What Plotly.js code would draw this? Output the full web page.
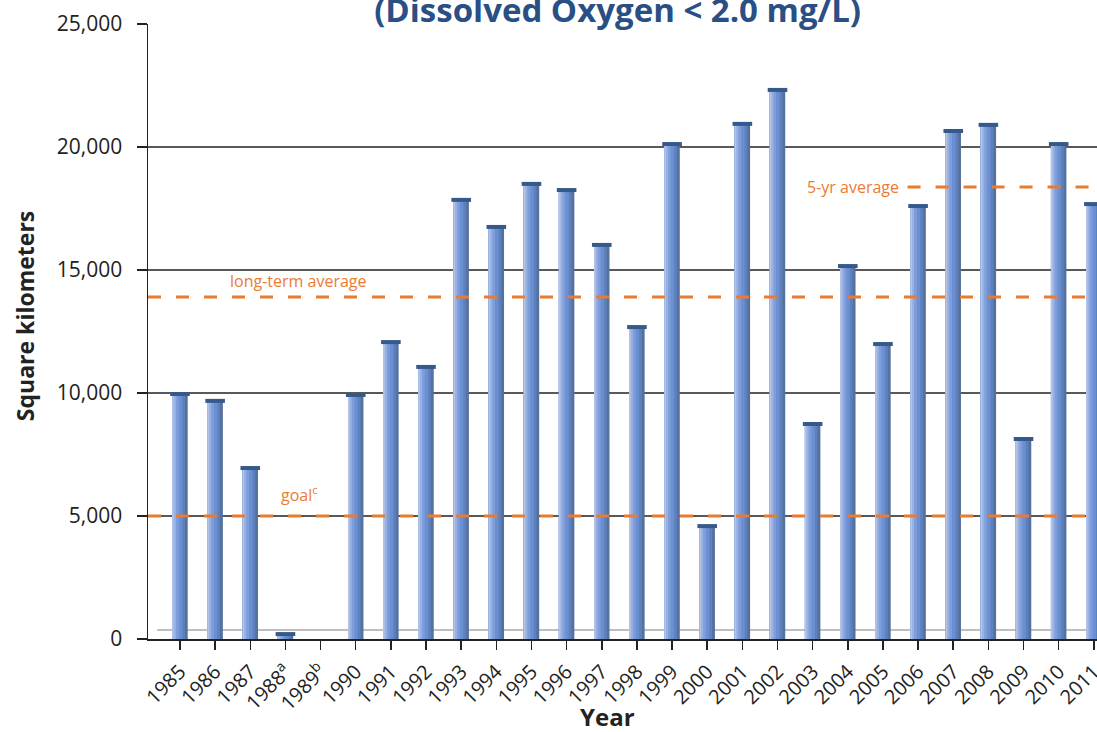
<!DOCTYPE html>
<html>
<head>
<meta charset="utf-8">
<script src="https://cdn.plot.ly/plotly-3.0.1.min.js"></script>
<style>html,body{margin:0;padding:0;background:#fff;}#chart{width:1097px;height:732px;}</style>
</head>
<body>
<div id="chart"></div>
<script>
const years = ["1985","1986","1987","1988<sup>a</sup>","1989<sup>b</sup>","1990","1991","1992","1993","1994","1995","1996","1997","1998","1999","2000","2001","2002","2003","2004","2005","2006","2007","2008","2009","2010","2011"];
const areaKm2 = [9960,9680,6950,200,null,9920,12070,11060,17850,16750,18500,18250,16020,12680,20120,4590,20940,22320,8740,15160,11990,17600,20650,20900,8130,20120,17680];
const longTermAverage = 13900;
const goal = 5000;
const fiveYearAverage = 18370;
const fiveYearStart = "2007";
const yTicks = [0,5000,10000,15000,20000,25000];
const gridValues = [5000,10000,15000,20000];

const idx = years.map((_, i) => i);
const W = 0.44;
// cylinder shading stripes: [widthFrac, color]
const stripes = [
  [1.00, "#55719f"],
  [0.82, "#5f81bb"],
  [0.64, "#6a8fd2"],
  [0.42, "#7d9ddb"],
  [0.24, "#98b1e2"],
  [0.10, "#b4c5e8"]
];
const traces = stripes.map(s => ({
  type: "bar", x: idx, y: areaKm2,
  width: W * s[0], offset: -W / 2,
  marker: {color: s[1], line: {width: 0}},
  hoverinfo: "skip", showlegend: false
}));
traces.push({
  type: "scatter", mode: "markers", x: idx, y: areaKm2,
  marker: {symbol: "line-ew", size: 14, color: "#34598a", line: {width: 4, color: "#34598a"}},
  hoverinfo: "skip", showlegend: false, cliponaxis: false
});

const shapes = [];
gridValues.forEach(v => shapes.push({type: "line", xref: "paper", x0: 0, x1: 1, yref: "y", y0: v, y1: v, line: {color: "#222", width: 1.5}, layer: "below"}));
shapes.push({type: "line", xref: "x", x0: -0.65, x1: 26.2, yref: "y", y0: 370, y1: 370, line: {color: "#aaaaaa", width: 1.5}, layer: "below"});
const dash = {color: "#ec7b32", width: 3, dash: "13px,15px"};
shapes.push({type: "line", xref: "paper", x0: 0, x1: 1, yref: "y", y0: longTermAverage, y1: longTermAverage, line: dash, layer: "above"});
shapes.push({type: "line", xref: "paper", x0: 0, x1: 1, yref: "y", y0: goal, y1: goal, line: dash, layer: "above"});
shapes.push({type: "line", xref: "x", x0: years.indexOf(fiveYearStart) - 1.3, x1: 26.2, yref: "y", y0: fiveYearAverage, y1: fiveYearAverage, line: dash, layer: "above"});

const lblFont = {family: "Open Sans, sans-serif", size: 16, color: "#ec7b32"};
const axTitleFont = {family: "Open Sans, sans-serif", size: 23, color: "#222"};
const annotations = [
  {xref: "x", yref: "y", x: 3.35, y: longTermAverage, yshift: 16, text: "long-term average", showarrow: false, font: lblFont},
  {xref: "x", yref: "y", x: 3.4, y: goal, yshift: 22, text: "goal<sup>c</sup>", showarrow: false, font: lblFont},
  {xref: "x", yref: "y", x: years.indexOf(fiveYearStart) - 1.5, y: fiveYearAverage, xanchor: "right", text: "5-yr average", showarrow: false, font: lblFont},
  {xref: "paper", yref: "paper", x: 0, xshift: -123, xanchor: "center", yanchor: "middle", y: 0.525, textangle: -90, text: "<b>Square kilometers</b>", showarrow: false, font: axTitleFont},
  {xref: "paper", yref: "paper", x: 0.4837, xanchor: "center", y: 0, yanchor: "middle", yshift: -77, text: "<b>Year</b>", showarrow: false, font: {family: "Open Sans, sans-serif", size: 24, color: "#222"}}
];

const layout = {
  width: 1097, height: 732,
  margin: {l: 148, r: 0, t: 24, b: 93},
  paper_bgcolor: "#fff", plot_bgcolor: "#fff",
  barmode: "overlay",
  showlegend: false,
  title: {text: "<b>(Dissolved Oxygen &lt; 2.0 mg/L)</b>", x: 0.563, xanchor: "center", y: 0.986, yanchor: "middle", yref: "container",
          font: {family: "Open Sans, sans-serif", size: 33, color: "#2a4f85"}},
  xaxis: {
    range: [-0.91, 26.09], tickmode: "array", tickvals: idx, ticktext: years,
    tickangle: -45, ticks: "outside", ticklen: 9, tickwidth: 1.5, tickcolor: "#222",
    showline: true, linecolor: "#222", linewidth: 2, showgrid: false, zeroline: false,
    tickfont: {family: "Open Sans, sans-serif", size: 20, color: "#222"},
    ticklabeloverflow: "allow", ticklabelstandoff: 2,
    automargin: false, fixedrange: true
  },
  yaxis: {
    range: [0, 25000], tickmode: "array", tickvals: yTicks, tickformat: ",d",
    ticks: "outside", ticklen: 10, tickwidth: 1.5, tickcolor: "#222",
    showline: true, linecolor: "#222", linewidth: 1.5, showgrid: false, zeroline: false,
    tickfont: {family: "Open Sans, sans-serif", size: 21, color: "#222"},
    ticklabelstandoff: 10,
    automargin: false, fixedrange: true
  },
  shapes: shapes,
  annotations: annotations
};
Plotly.newPlot("chart", traces, layout, {displayModeBar: false, staticPlot: true});
</script>
</body>
</html>
